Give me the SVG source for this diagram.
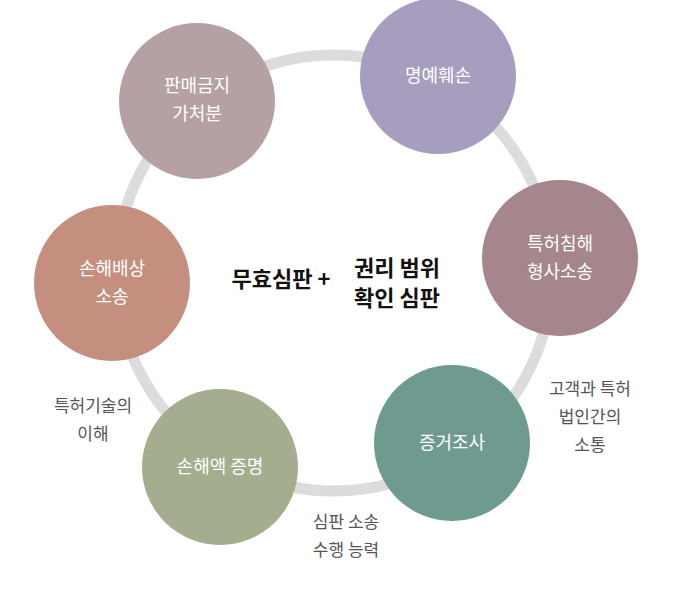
<svg xmlns="http://www.w3.org/2000/svg" width="700" height="600" viewBox="0 0 700 600">
<style>
.n{font-family:"Noto Sans CJK KR","Noto Sans",sans-serif;font-size:18px;fill:#fff;text-anchor:middle}
.l{font-family:"Noto Sans CJK KR","Noto Sans",sans-serif;font-size:17px;fill:#555;text-anchor:middle}
.c{font-family:"Noto Sans CJK KR","Noto Sans",sans-serif;font-size:22px;font-weight:bold;fill:#111;text-anchor:middle}
</style>
<rect width="700" height="600" fill="#fff"/>
<g id="connectors"><circle cx="334" cy="273" r="218" fill="none" stroke="#dcdcdc" stroke-width="11"/></g>
<g id="n1"><circle cx="438" cy="76" r="78" fill="#a69dbf"/><text class="n" x="438" y="82">명예훼손</text></g>
<g id="n2"><circle cx="197" cy="101" r="78" fill="#b5a1a4"/><text class="n" x="197" y="92">판매금지</text><text class="n" x="197" y="120">가처분</text></g>
<g id="n3"><circle cx="560" cy="258" r="78" fill="#a4868c"/><text class="n" x="560" y="250">특허침해</text><text class="n" x="560" y="278">형사소송</text></g>
<g id="n4"><circle cx="452" cy="443" r="78" fill="#6f9a8f"/><text class="n" x="452" y="449">증거조사</text></g>
<g id="n5"><circle cx="220" cy="467" r="78" fill="#a4ad8e"/><text class="n" x="220" y="473">손해액 증명</text></g>
<g id="n6"><circle cx="112" cy="283" r="78" fill="#c48f7f"/><text class="n" x="112" y="275">손해배상</text><text class="n" x="112" y="303">소송</text></g>
<g id="center"><text class="c" x="281" y="287">무효심판 +</text><text class="c" x="397" y="276">권리 범위</text><text class="c" x="397" y="306">확인 심판</text></g>
<g id="labels">
<text class="l" x="93" y="412">특허기술의</text><text class="l" x="93" y="440">이해</text>
<text class="l" x="590" y="395">고객과 특허</text><text class="l" x="590" y="423">법인간의</text><text class="l" x="590" y="451">소통</text>
<text class="l" x="346" y="528">심판 소송</text><text class="l" x="346" y="556">수행 능력</text>
</g>
</svg>
